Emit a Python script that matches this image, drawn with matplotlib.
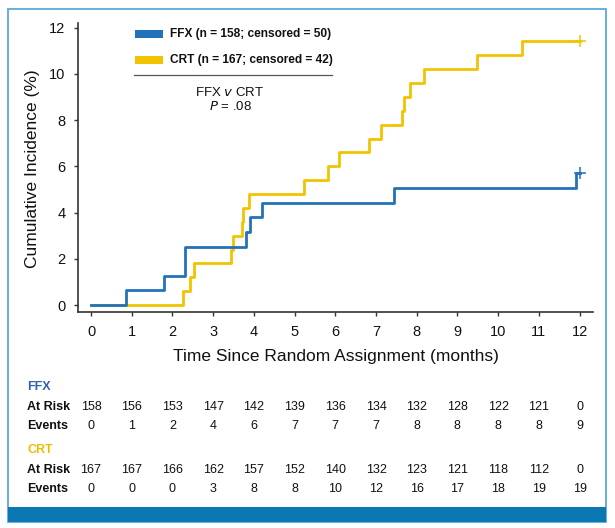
import matplotlib
matplotlib.use("Agg")
import matplotlib.pyplot as plt
from matplotlib.patches import Rectangle
from matplotlib.lines import Line2D
import matplotlib.transforms as mtransforms

W, H = 615, 528

# ---------------- data ----------------
ffx_times = [0, 0.86, 1.80, 2.30, 3.80, 3.90, 4.21, 7.43, 11.92]
ffx_ci = [0, 0.63, 1.27, 2.53, 3.16, 3.80, 4.43, 5.06, 5.70]
crt_times = [0, 2.26, 2.43, 2.52, 3.45, 3.48, 3.70, 3.74, 3.87, 5.23, 5.81,
             6.10, 6.83, 7.12, 7.65, 7.69, 7.84, 8.17, 9.47, 10.59]
crt_ci = [0, 0.6, 1.2, 1.8, 2.4, 3.0, 3.6, 4.2, 4.8, 5.4, 6.0,
          6.6, 7.2, 7.8, 8.4, 9.0, 9.6, 10.2, 10.8, 11.4]
end_time = 12

months = list(range(0, 13))
ffx_at_risk = [158, 156, 153, 147, 142, 139, 136, 134, 132, 128, 122, 121, 0]
ffx_events = [0, 1, 2, 4, 6, 7, 7, 7, 8, 8, 8, 8, 9]
crt_at_risk = [167, 167, 166, 162, 157, 152, 140, 132, 123, 121, 118, 112, 0]
crt_events = [0, 0, 0, 3, 8, 8, 10, 12, 16, 17, 18, 19, 19]

ffx_label = "FFX (n = 158; censored = 50)"
crt_label = "CRT (n = 167; censored = 42)"

BLUE = "#2372b9"
YELLOW = "#f2c300"
BLUE_TXT = "#2f64ad"
YEL_TXT = "#efbd00"
FRAME = "#5aaad8"
BAR = "#0b77b3"

SANS = ["Liberation Sans", "DejaVu Sans"]
plt.rcParams["font.family"] = SANS


def fx(px):
    return px / W


def fy(py):
    return 1 - py / H


fig = plt.figure(figsize=(W / 100, H / 100), dpi=100)

# outer frame and bottom bar
fig.patches.append(Rectangle((fx(8), fy(522)), fx(606) - fx(8), fy(9) - fy(522),
                             transform=fig.transFigure, fill=False,
                             edgecolor=FRAME, linewidth=1.3, zorder=0))
fig.patches.append(Rectangle((fx(8), fy(522)), fx(606) - fx(8), fy(507) - fy(522),
                             transform=fig.transFigure, facecolor=BAR,
                             edgecolor="none", zorder=1))

ax = fig.add_axes([fx(78), fy(312), fx(593) - fx(78), fy(23) - fy(312)])
ax.set_xlim(-0.32, 12.33)
ax.set_ylim(-0.3, 12.2)

ax.step(ffx_times + [end_time], ffx_ci + [ffx_ci[-1]], where="post",
        color=BLUE, lw=2.0, zorder=3)
ax.step(crt_times + [end_time], crt_ci + [crt_ci[-1]], where="post",
        color=YELLOW, lw=2.0, zorder=2)
ax.plot([end_time], [ffx_ci[-1]], marker="+", color=BLUE, ms=9, mew=1.1)
ax.plot([end_time], [crt_ci[-1]], marker="+", color=YELLOW, ms=9, mew=1.1)

for s in ["top", "right"]:
    ax.spines[s].set_visible(False)
for s in ["left", "bottom"]:
    ax.spines[s].set_color("#333333")
    ax.spines[s].set_linewidth(1.2)

ax.set_xticks(months)
ax.set_yticks(range(0, 13, 2))
ax.tick_params(axis="both", length=3, width=1, colors="#333333",
               labelcolor="#111111", labelsize=10.5, pad=6)

fig.text(fx(336), fy(357), "Time Since Random Assignment (months)",
         ha="center", va="center", fontsize=12.5, color="#111111")
fig.text(fx(33), fy(169), "Cumulative Incidence (%)", rotation=90,
         ha="center", va="center", fontsize=12.5, color="#111111")

# legend
fig.patches.append(Rectangle((fx(135), fy(37.5)), fx(163) - fx(135), fy(29.5) - fy(37.5),
                             transform=fig.transFigure, facecolor=BLUE, edgecolor="none"))
fig.patches.append(Rectangle((fx(135), fy(63.5)), fx(163) - fx(135), fy(55.5) - fy(63.5),
                             transform=fig.transFigure, facecolor=YELLOW, edgecolor="none"))
fig.text(fx(170), fy(33.5), ffx_label, ha="left", va="center", fontsize=8.6,
         fontweight="bold", color="#111111")
fig.text(fx(170), fy(59.5), crt_label, ha="left", va="center", fontsize=8.6,
         fontweight="bold", color="#111111")
fig.lines.append(Line2D([fx(134), fx(332)], [fy(75), fy(75)], transform=fig.transFigure,
                        color="#555555", lw=0.9))
fig.text(fx(230), fy(93), r"FFX $\it{v}$ CRT", ha="center", va="center",
         fontsize=9.5, color="#111111")
fig.text(fx(230), fy(107), r"$\it{P}$ = .08", ha="center", va="center",
         fontsize=9.5, color="#111111")

# risk table
trans = mtransforms.blended_transform_factory(ax.transData, fig.transFigure)
fig.text(fx(27), fy(387), "FFX", ha="left", va="center", fontsize=9,
         fontweight="bold", color=BLUE_TXT)
fig.text(fx(27), fy(450), "CRT", ha="left", va="center", fontsize=9,
         fontweight="bold", color=YEL_TXT)
rows = [(407, "At Risk", ffx_at_risk), (426, "Events", ffx_events),
        (470, "At Risk", crt_at_risk), (489, "Events", crt_events)]
for py, name, vals in rows:
    fig.text(fx(27), fy(py), name, ha="left", va="center", fontsize=9,
             fontweight="bold", color="#111111")
    for m, v in zip(months, vals):
        ax.text(m, fy(py), str(v), transform=trans, ha="center", va="center",
                fontsize=9, color="#111111", clip_on=False)

fig.savefig("out.png", dpi=100)
